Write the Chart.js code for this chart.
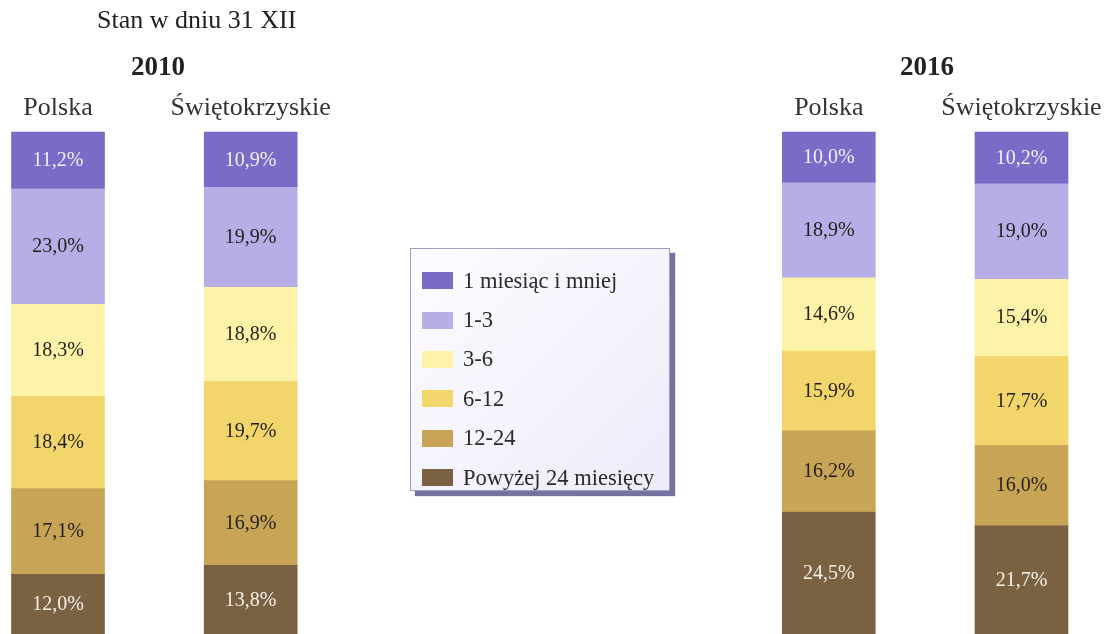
<!DOCTYPE html>
<html>
<head>
<meta charset="utf-8">
<script src="https://cdn.jsdelivr.net/npm/chart.js@4.4.1/dist/chart.umd.min.js"></script>
<style>
    html, body { margin: 0; padding: 0; background: #fff; }
    #wrap { position: relative; width: 1117px; height: 634px; overflow: hidden; font-family: 'Liberation Serif', 'Times New Roman', serif; color: #222; }
    .txt { position: absolute; white-space: nowrap; line-height: 1; }
    #legend {
        position: absolute; left: 410px; top: 248px; width: 260px; height: 243px; box-sizing: border-box;
        border: 1px solid #a09ec4;
        background: linear-gradient(135deg, #fdfcff 0%, #eeebfa 100%);
        box-shadow: 5px 5px 1px #76739f;
        padding: 12px 0 0 11px;
    }
    #legend .item { height: 39.4px; display: flex; align-items: center; font-size: 22.5px; color: #2a2a2a; }
    #legend .sw { width: 31px; height: 17px; margin-right: 10px; flex: none; }
</style>
</head>
<body>
<div id="wrap">
    <canvas id="chart" width="1117" height="634"></canvas>
    <div class="txt" style="left:97px; top:7px; font-size:26px;">Stan w dniu 31 XII</div>
    <div class="txt" style="left:158px; top:53px; font-size:27px; font-weight:bold; transform:translateX(-50%);">2010</div>
    <div class="txt" style="left:927px; top:53px; font-size:27px; font-weight:bold; transform:translateX(-50%);">2016</div>
    <div id="legend"></div>
</div>
<script>
// Kategorie (puste miejsca = odstęp między latami)
const categories = ['Polska', 'Świętokrzyskie', '', '', 'Polska', 'Świętokrzyskie'];
const groups = ['1 miesiąc i mniej', '1-3', '3-6', '6-12', '12-24', 'Powyżej 24 miesięcy'];

// Wartości w %, kolejność: Polska 2010, Świętokrzyskie 2010, -, -, Polska 2016, Świętokrzyskie 2016
const upTo1 = [11.2, 10.9, null, null, 10.0, 10.2];
const m1to3 = [23.0, 19.9, null, null, 18.9, 19.0];
const m3to6 = [18.3, 18.8, null, null, 14.6, 15.4];
const m6to12 = [18.4, 19.7, null, null, 15.9, 17.7];
const m12to24 = [17.1, 16.9, null, null, 16.2, 16.0];
const over24 = [12.0, 13.8, null, null, 24.5, 21.7];

const colors = ['#7b6ac6', '#b8aee7', '#fcf3a8', '#f2d66c', '#c8a556', '#7a6142'];
const labelColors = ['#f3f0fb', '#221e18', '#221e18', '#221e18', '#221e18', '#f5f1ea'];

const series = [upTo1, m1to3, m3to6, m6to12, m12to24, over24];

// etykiety z wartościami w środku segmentów
const valueLabels = {
    id: 'valueLabels',
    afterDatasetsDraw(chart) {
        const ctx = chart.ctx;
        ctx.save();
        ctx.font = '20px "Liberation Serif", serif';
        ctx.textAlign = 'center';
        ctx.textBaseline = 'middle';
        chart.data.datasets.forEach((ds, i) => {
            const meta = chart.getDatasetMeta(i);
            meta.data.forEach((bar, j) => {
                const v = ds.data[j];
                if (v == null) return;
                ctx.fillStyle = labelColors[i];
                ctx.fillText(v.toFixed(1).replace('.', ',') + '%', bar.x, (bar.y + bar.base) / 2 + 1);
            });
        });
        ctx.restore();
    }
};

// legenda w HTML
const htmlLegend = {
    id: 'htmlLegend',
    afterUpdate(chart) {
        const box = document.getElementById('legend');
        box.innerHTML = '';
        chart.data.datasets.forEach(ds => {
            const item = document.createElement('div');
            item.className = 'item';
            const sw = document.createElement('span');
            sw.className = 'sw';
            sw.style.background = ds.backgroundColor;
            item.appendChild(sw);
            item.appendChild(document.createTextNode(ds.label));
            box.appendChild(item);
        });
    }
};

new Chart(document.getElementById('chart'), {
    type: 'bar',
    data: {
        labels: categories,
        datasets: series.map((d, i) => ({
            label: groups[i],
            data: d,
            backgroundColor: colors[i],
            borderWidth: 0,
            barThickness: 93,
            clip: false
        }))
    },
    options: {
        responsive: false,
        animation: false,
        layout: { padding: { left: 58, right: 95.5, top: 80, bottom: 0 } },
        plugins: {
            legend: { display: false },
            tooltip: { enabled: false }
        },
        scales: {
            x: {
                stacked: true,
                position: 'top',
                offset: false,
                grid: { display: false },
                border: { display: false },
                ticks: {
                    color: '#333',
                    padding: 0,
                    maxRotation: 0,
                    autoSkip: false,
                    font: { family: '"Liberation Serif", serif', size: 26 }
                },
                afterFit(scale) { scale.height = 52; }
            },
            y: {
                stacked: true,
                reverse: true,
                min: 0,
                max: 100,
                display: false
            }
        }
    },
    plugins: [valueLabels, htmlLegend]
});
</script>
</body>
</html>
